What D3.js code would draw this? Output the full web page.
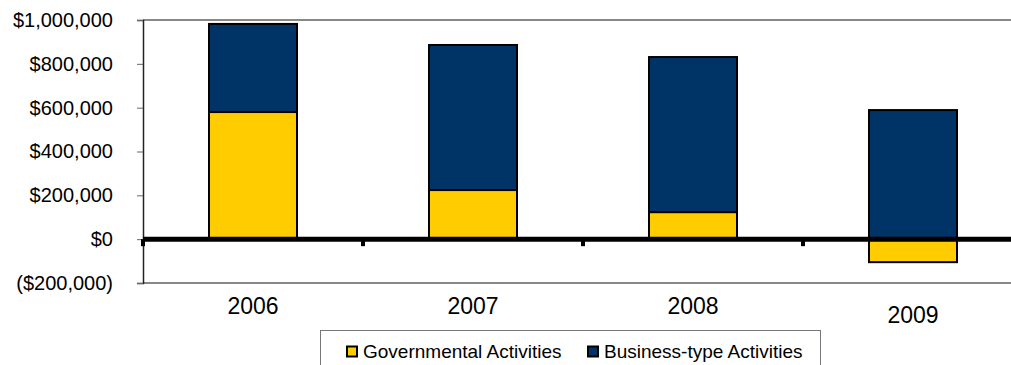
<!DOCTYPE html>
<html>
<head>
<meta charset="utf-8">
<script src="https://d3js.org/d3.v7.min.js"></script>
<style>
  html, body { margin: 0; padding: 0; background: #fff; overflow: hidden; }
  svg { display: block; font-family: "Liberation Sans", Arial, sans-serif; }
</style>
</head>
<body>
<svg id="chart" width="1011" height="365"></svg>
<script>
// Net position change by activity type
const years = ["2006", "2007", "2008", "2009"];
const governmental = [580000, 224000, 123000, -105000];
const businessType = [402000, 662000, 708000, 589000];
const yTicks = [-200000, 0, 200000, 400000, 600000, 800000, 1000000];
const seriesNames = ["Governmental Activities", "Business-type Activities"];
const seriesColors = ["#FFCC00", "#003366"];

const svg = d3.select("#chart");
const plot = { left: 143, top: 20, right: 1023, bottom: 283 };

const x = d3.scaleBand().domain(years).range([plot.left, plot.right]).paddingInner(0.6).paddingOuter(0.3);
const y = d3.scaleLinear().domain([-200000, 1000000]).range([plot.bottom, plot.top]);
const xOuter = d3.scaleBand().domain(years).range([plot.left, plot.right]);

const fmt = v => v < 0 ? "($" + d3.format(",")(-v) + ")" : "$" + d3.format(",")(v);

// plot frame
svg.append("line").attr("x1", plot.left).attr("x2", 1011).attr("y1", plot.top).attr("y2", plot.top)
  .attr("stroke", "#888").attr("stroke-width", 2);
svg.append("line").attr("x1", plot.left).attr("x2", 1011).attr("y1", plot.bottom).attr("y2", plot.bottom)
  .attr("stroke", "#888").attr("stroke-width", 2);

// y axis
const yAxis = d3.axisLeft(y).tickValues(yTicks).tickFormat(fmt).tickSize(6).tickPadding(24);
const gy = svg.append("g").attr("transform", `translate(${plot.left},0)`).call(yAxis);
gy.attr("font-size", null).attr("font-family", null);
gy.select(".domain").attr("stroke", "#222").attr("stroke-width", 1.5);
gy.selectAll(".tick line").attr("stroke", "#666");
gy.selectAll(".tick text").style("font-size", "20px").attr("fill", "#000");

// bars: business stacked from zero upward on top of positive governmental value
const rows = years.map((yr, i) => ({ yr, g: governmental[i], b: businessType[i] }));
const bars = svg.append("g");
rows.forEach(d => {
  const gTop = Math.max(d.g, 0), gBot = Math.min(d.g, 0);
  const bBase = Math.max(d.g, 0);
  bars.append("rect")
    .attr("x", x(d.yr)).attr("width", x.bandwidth())
    .attr("y", y(bBase + d.b)).attr("height", y(bBase) - y(bBase + d.b))
    .attr("fill", seriesColors[1]).attr("stroke", "#000").attr("stroke-width", 2);
  bars.append("rect")
    .attr("x", x(d.yr)).attr("width", x.bandwidth())
    .attr("y", y(gTop)).attr("height", y(gBot) - y(gTop))
    .attr("fill", seriesColors[0]).attr("stroke", "#000").attr("stroke-width", 2);
});

// zero line with category tick marks
svg.append("line").attr("x1", plot.left).attr("x2", 1011).attr("y1", y(0)).attr("y2", y(0))
  .attr("stroke", "#000").attr("stroke-width", 5);
svg.append("g").selectAll("line").data(years).join("line")
  .attr("x1", d => xOuter(d)).attr("x2", d => xOuter(d))
  .attr("y1", y(0)).attr("y2", y(0) + 7)
  .attr("stroke", "#000").attr("stroke-width", 4);

// category labels
svg.append("g").selectAll("text").data(years).join("text")
  .attr("x", d => x(d) + x.bandwidth() / 2)
  .attr("y", (d, i) => i === 3 ? 323 : 314)
  .attr("text-anchor", "middle").style("font-size", "23px").attr("fill", "#000")
  .text(d => d);

// legend
const lg = svg.append("g");
lg.append("rect").attr("x", 320.5).attr("y", 330.5).attr("width", 500).attr("height", 40)
  .attr("fill", "#fff").attr("stroke", "#777").attr("stroke-width", 1);
const legendX = [347, 588];
seriesNames.forEach((name, i) => {
  lg.append("rect").attr("x", legendX[i]).attr("y", 346.5).attr("width", 10).attr("height", 10)
    .attr("fill", seriesColors[i]).attr("stroke", "#000").attr("stroke-width", 2);
  lg.append("text").attr("x", legendX[i] + 16).attr("y", 358)
    .style("font-size", "19px").attr("fill", "#000").text(name);
});
</script>
</body>
</html>
